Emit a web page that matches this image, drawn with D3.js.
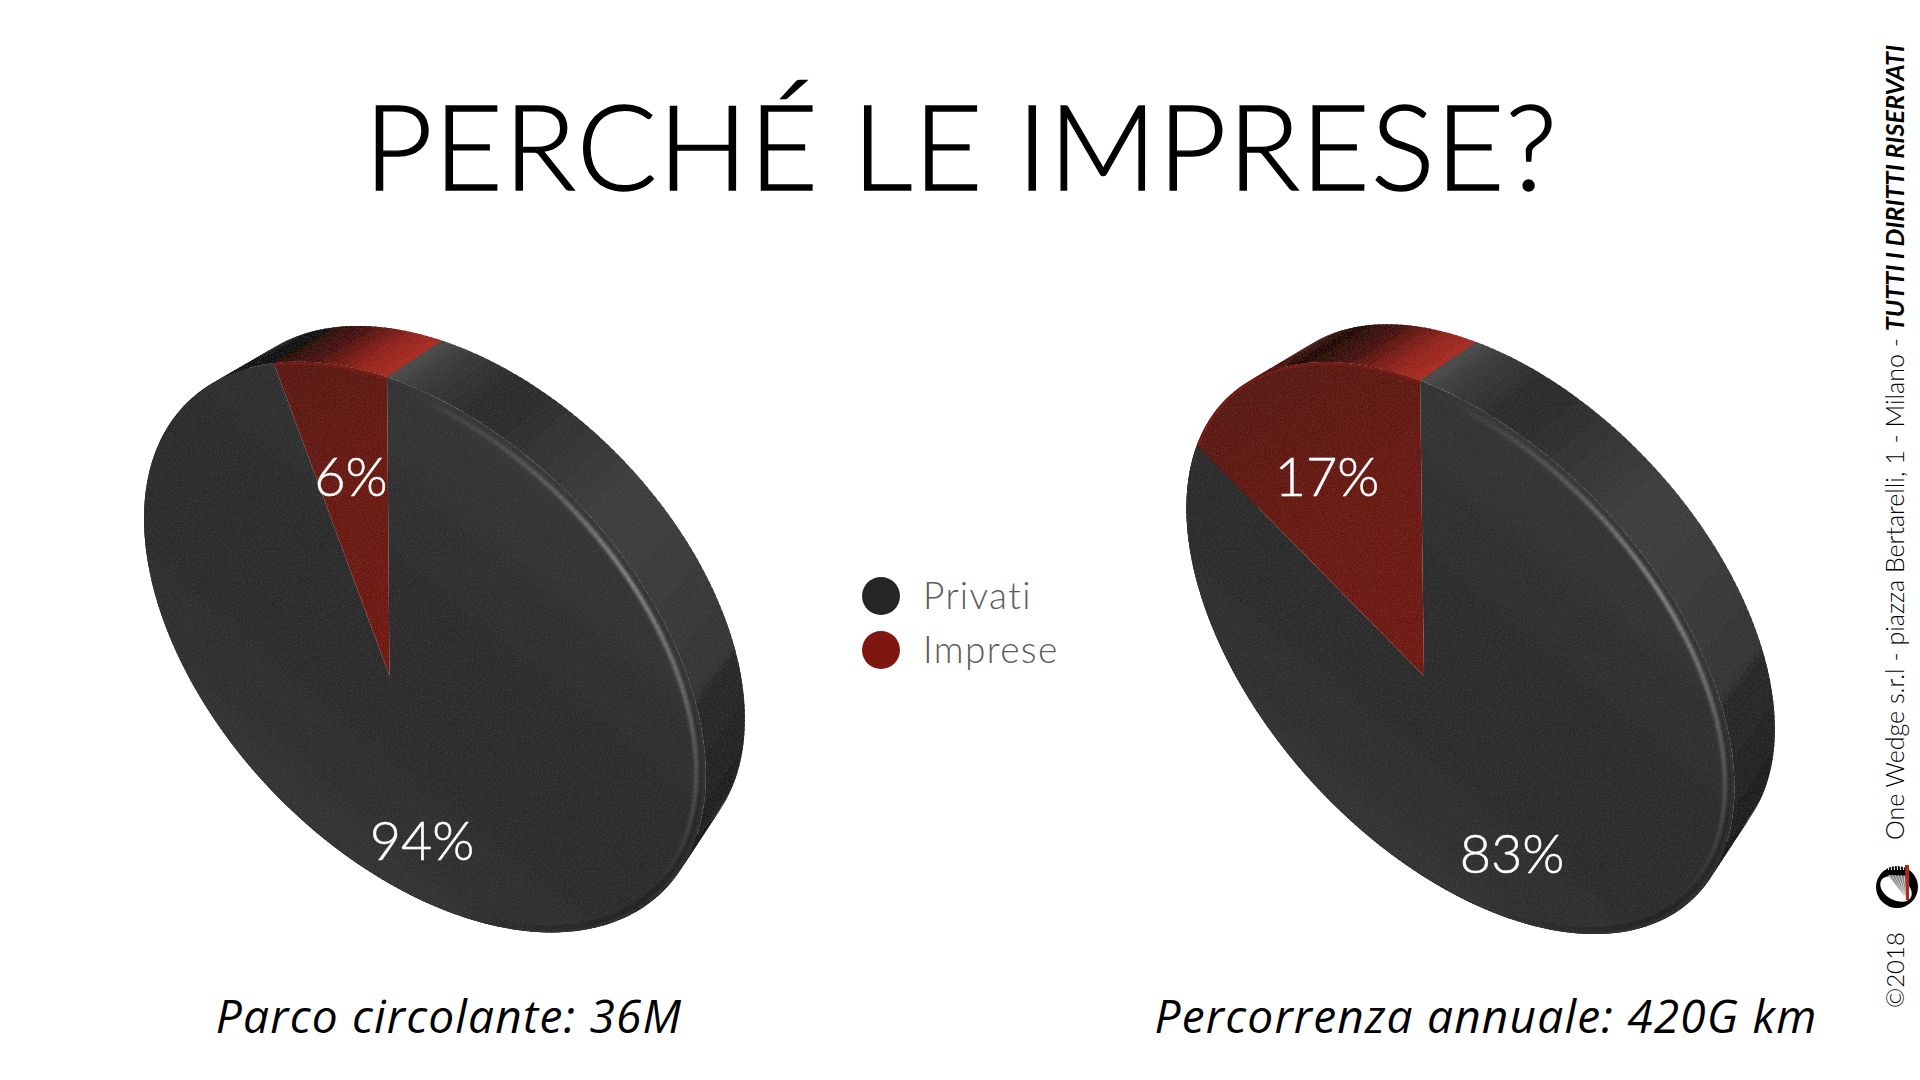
<!DOCTYPE html>
<html><head><meta charset="utf-8">
<script src="https://cdn.jsdelivr.net/npm/d3@7"></script>
<style>html,body{margin:0;padding:0;background:#fff;overflow:hidden}svg{display:block}text{font-family:Lato,"Noto Sans",sans-serif}</style>
</head><body><svg id="c" width="1920" height="1080" viewBox="0 0 1920 1080"></svg>
<script>
const categories = ["Privati", "Imprese"];
const seriesParco = [94, 6];
const seriesPercorrenza = [83, 17];
const pieTitles = ["Parco circolante: 36M", "Percorrenza annuale: 420G km"];
const chartTitle = "PERCHÉ LE IMPRESE?";
const colors = ["#252525", "#7e170f"];

const svg = d3.select("#c");
svg.append("rect").attr("width",1920).attr("height",1080).attr("fill","#fff");
const defs = svg.append("defs");

const grain = defs.append("filter").attr("id","grain").attr("x","0").attr("y","0").attr("width","100%").attr("height","100%");
grain.append("feTurbulence").attr("type","fractalNoise").attr("baseFrequency",0.8).attr("numOctaves",2).attr("seed",4).attr("result","n");
grain.append("feColorMatrix").attr("in","n").attr("type","matrix").attr("values","0 0 0 0 1  0 0 0 0 1  0 0 0 0 1  0.5 0 0 0 -0.2").attr("result","a");
grain.append("feComposite").attr("in","a").attr("in2","SourceAlpha").attr("operator","in").attr("result","b");
grain.append("feComponentTransfer").attr("in","b").attr("result","c").append("feFuncA").attr("type","linear").attr("slope",0.12);
const gm = grain.append("feMerge");
gm.append("feMergeNode").attr("in","SourceGraphic");
gm.append("feMergeNode").attr("in","c");
defs.append("filter").attr("id","soft").append("feGaussianBlur").attr("stdDeviation",1.6);

function grad(id, x1,y1,x2,y2, stops){
  const g = defs.append("linearGradient").attr("id",id).attr("gradientUnits","userSpaceOnUse")
    .attr("x1",x1).attr("y1",y1).attr("x2",x2).attr("y2",y2);
  stops.forEach(s=>g.append("stop").attr("offset",s[0]).attr("stop-color",s[1]));
}

const rad = d3.scaleLinear().domain([0,360]).range([0,2*Math.PI]);
const greyShade = d3.scaleLinear()
  .domain([0,.08,.2,.3,.55,.75,1])
  .range(["#4a4a4a","#383838","#2a2a2a","#2d2d2d","#3e3e3e","#3a3a3a","#333333"]);
const afterSeam = d3.scaleLinear().domain([0,15,35,60,150]).range(["#292929","#222","#171717","#111","#111"]);
const leftShade = d3.scaleLinear().domain([0,25,60,90,200]).range(["#0c0c0c","#0c0c0c","#222","#2c2c2c","#2c2c2c"]);
const redShade = d3.scaleLinear().domain([0,6,14,24,40,70]).range(["#ab2c23","#92231b","#4c0f0a","#230604","#4c0f0a","#7a1a12"]);

function drawPie(cfg, values, idx){
  const {cx,cy,a,b,theta,q,phi,top,seam,ox,oy,s} = cfg;
  const ct=Math.cos(theta), st=Math.sin(theta), cp=Math.cos(phi), sp=Math.sin(phi), k2=Math.sqrt(1-q*q);
  // unit-disc -> image, a perspective view of the disc (circle centre lands on the slice apex)
  const toImg=(x,y)=>{
    const d=1+q*x, u0=(x+q)/d, v0=y*k2/d;
    const u=u0*cp-v0*sp, v=u0*sp+v0*cp;
    const mn=u*b, mj=v*a;
    return [cx + mj*ct + mn*st, cy + mj*st - mn*ct];
  };
  const fromImg=(px,py)=>{
    const rx=px-cx, ry=py-cy, mj=rx*ct+ry*st, mn=rx*st-ry*ct;
    const u1=mn/b, v1=mj/a, u=u1*cp+v1*sp, v=-u1*sp+v1*cp, d=1-q*u;
    return [(u-q)/d, v*k2/d];
  };
  const t0=fromImg(top[0],top[1]);
  const a0=Math.atan2(t0[1],t0[0]);
  const ts=fromImg(seam[0],seam[1]);
  const deg=x=>x*180/Math.PI;
  const seamDeg=(deg(Math.atan2(ts[1],ts[0])-a0)+720)%360;
  // rim point for a pie angle (0 at the top boundary, growing clockwise on screen)
  const rim=(ang,r=1)=>{const A=a0+ang; return toImg(r*Math.cos(A),r*Math.sin(A));};
  const back=p=>[cx+ox+(p[0]-cx)*s, cy+oy+(p[1]-cy)*s];
  const pie=d3.pie().sort(null).startAngle(0).endAngle(2*Math.PI)(values);
  const line=d3.line();
  const g=svg.append("g");
  const side=g.append("g").attr("filter","url(#grain)");
  const redStart=pie[1].startAngle;
  d3.range(359,-1,-1).forEach(i=>{
    const t1=rad(i), t2=rad(i+1.6), mid=rad(i+.5), m=deg(mid);
    const p=[rim(t1),rim(t2),back(rim(t2)),back(rim(t1))];
    let col;
    if(mid>=redStart) col=redShade(deg(2*Math.PI-mid));
    else if(m<=seamDeg) col=greyShade(m/seamDeg);
    else if(m<=220) col=afterSeam(m-seamDeg);
    else col=leftShade(deg(redStart-mid));
    side.append("path").attr("d",line(p)+"Z").attr("fill",col);
  });
  const center=rim(0,0);
  const gid="f"+idx;
  grad(gid+"k",cx+220,cy-240,cx-190,cy+250,[[0,"#3c3c3c"],[.3,"#303030"],[.55,"#292929"],[.8,"#303030"],[1,"#343434"]]);
  grad(gid+"r",top[0]-170,top[1],center[0],center[1],[[0,"#57120c"],[.5,"#6b170f"],[1,"#70180f"]]);
  const face=g.append("g").attr("filter","url(#grain)");
  pie.forEach((d,i)=>{
    const pts=[center].concat(d3.range(0,121).map(k=>rim(d.startAngle+(d.endAngle-d.startAngle)*k/120)));
    face.append("path").attr("d",line(pts)+"Z").attr("fill",`url(#${gid}${i?"r":"k"})`);
  });
  // dark bevel lower right, bright bevel along the upper right
  const dark=d3.scaleLinear().domain([seamDeg-6,seamDeg+25,seamDeg+60,seamDeg+95]).range([0,.8,.6,0]);
  d3.range(seamDeg-6,seamDeg+95,1).forEach(k=>{
    g.append("path").attr("d",line([rim(rad(k),0.982),rim(rad(k+1.2),0.982)]))
      .attr("stroke","#232323").attr("stroke-width",5).attr("stroke-opacity",dark(k)).attr("fill","none");
  });
  const glow=d3.scaleLinear().domain([4,25,45,70,95,110]).range([0,.3,.75,.4,.15,0]);
  const hl=g.append("g").attr("filter","url(#soft)");
  d3.range(4,110,1).forEach(k=>{
    hl.append("path").attr("d",line([rim(rad(k),0.975),rim(rad(k+1.2),0.975)]))
      .attr("stroke","#a5a5a5").attr("stroke-width",4).attr("stroke-opacity",glow(k)).attr("fill","none");
  });
  // lighter edge line on the red slice rim
  const rr=d3.range(0,41).map(k=>rim(pie[1].startAngle+(pie[1].endAngle-pie[1].startAngle)*k/40,0.995));
  g.append("path").attr("d",line(rr)).attr("fill","none").attr("stroke","#7d1d15").attr("stroke-width",2);
}

const layouts=[
 {cx:425,cy:647,a:341,b:210,theta:46*Math.PI/180,q:-0.2179,phi:0.051,top:[387,373],seam:[702,698],ox:53,oy:-50,s:.95},
 {cx:1460.5,cy:648,a:342,b:200,theta:47.5*Math.PI/180,q:-0.2293,phi:0.0515,top:[1420,375],seam:[1725,700],ox:54,oy:-52,s:.95}
];
[seriesParco,seriesPercorrenza].forEach((v,i)=>drawPie(layouts[i],v,i));

function txt(x,y,s,size,opts={}){
  return svg.append("text").attr("x",x).attr("y",y).text(s).attr("font-size",size)
    .attr("font-weight",opts.w||300).attr("font-style",opts.i?"italic":"normal")
    .attr("fill",opts.c||"#000").attr("text-anchor",opts.a||"middle")
    .attr("letter-spacing",opts.ls||0).attr("stroke",opts.sw?(opts.c||"#000"):null).attr("stroke-width",opts.sw||null)
    .style("font-family",opts.f||null);
}
txt(961,190,chartTitle,119,{ls:1,sw:1.4});
const pctPos=[[422,860,seriesParco[0]],[351,496,seriesParco[1]],[1512,873,seriesPercorrenza[0]],[1327,496,seriesPercorrenza[1]]];
pctPos.forEach(p=>txt(p[0],p[1],p[2]+"%",54,{c:"#fff",sw:.5}));
const capFont='"Open Sans",sans-serif';
txt(449,1033,pieTitles[0],46,{i:1,w:400,f:capFont,ls:1.2});
txt(1486,1033,pieTitles[1],46,{i:1,w:400,f:capFont,ls:1.2});

const legendY=d3.scalePoint().domain(categories).range([596,650]);
categories.forEach((c,i)=>{
  svg.append("circle").attr("cx",881).attr("cy",legendY(c)).attr("r",19).attr("fill",colors[i]);
  txt(923,legendY(c)+13,c,37,{a:"start",c:"#5c5c5c",ls:1.4});
});

// vertical credit
const cr=svg.append("g").attr("transform","translate(1904,1008) rotate(-90)");
const t=cr.append("text").attr("font-size",25).attr("fill","#000").attr("font-weight",300);
t.append("tspan").attr("x",0).attr("font-size",24).text("©2018");
t.append("tspan").attr("x",168).text("One Wedge s.r.l - piazza Bertarelli, 1 - Milano - ");
t.append("tspan").attr("font-style","italic").attr("font-weight",700).attr("font-size",25.2).text("TUTTI I DIRITTI RISERVATI");

// logo
const lg=svg.append("g").attr("transform","translate(1897,887)");
lg.append("path").attr("fill-rule","evenodd").attr("fill","#000")
  .attr("d",d3.arc()({innerRadius:0,outerRadius:21,startAngle:0,endAngle:2*Math.PI})+
    " M-16 -6 A 17 11 30 1 0 14 10 A 17 11 30 1 0 -16 -6 Z");
lg.append("path").attr("d","M-9 -12 L11 -11 L10 13 Z").attr("fill","#808080");
d3.range(-8,10,3).forEach(x=>lg.append("line").attr("x1",x).attr("y1",-12).attr("x2",10).attr("y2",13).attr("stroke","#fff").attr("stroke-width",.6));
lg.append("path").attr("d","M8 -22 L12 -22 L12 13 L9 13 Z").attr("fill","#b02a20");
d3.range(-12,8,3).forEach(x=>lg.append("line").attr("x1",x).attr("y1",-22).attr("x2",x+.6).attr("y2",-17).attr("stroke","#fff").attr("stroke-width",1));
</script></body></html>
